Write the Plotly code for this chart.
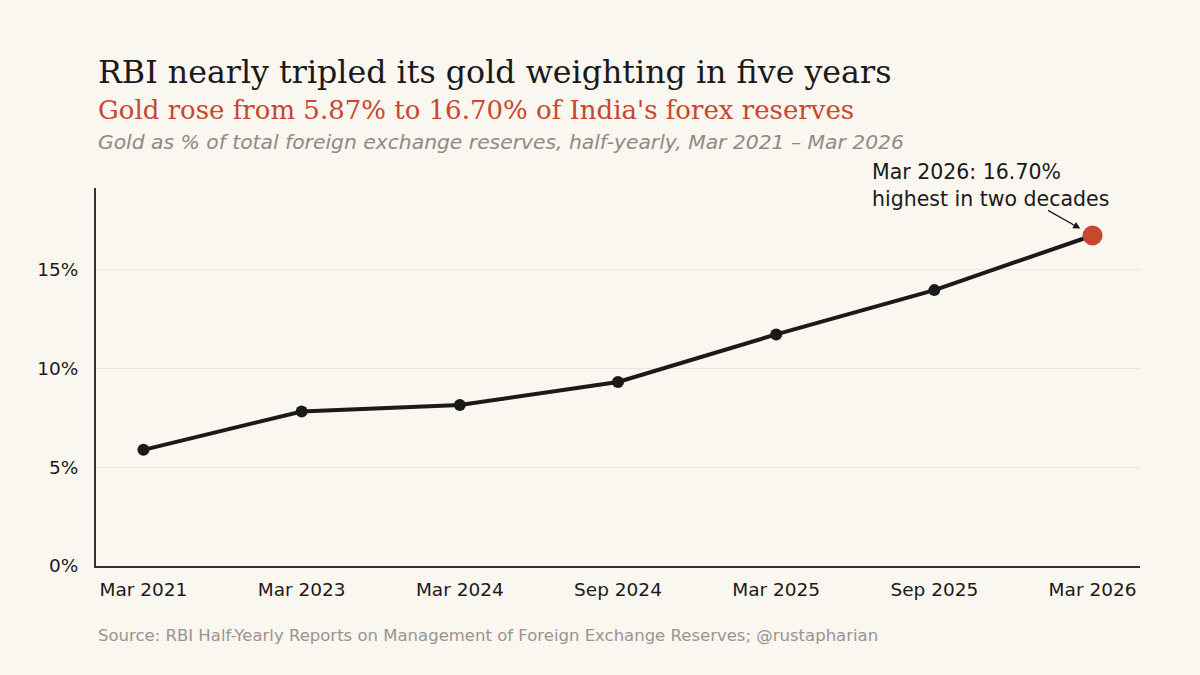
import plotly.graph_objects as go

periods = ["Mar 2021", "Mar 2023", "Mar 2024", "Sep 2024", "Mar 2025", "Sep 2025", "Mar 2026"]
gold_share = [5.87, 7.81, 8.13, 9.30, 11.70, 13.94, 16.70]
y_ticks = [0, 5, 10, 15]
y_labels = [f"{v}%" for v in y_ticks]

bg = "#faf6f0"
ink = "#1a1a1a"
red = "#c8472e"
sans = "DejaVu Sans, sans-serif"
serif = "DejaVu Serif, serif"

fig = go.Figure()
fig.add_trace(go.Scatter(x=periods, y=gold_share, mode="lines+markers",
                         line=dict(color=ink, width=4),
                         marker=dict(color=ink, size=12),
                         hovertemplate="%{x}: %{y:.2f}%<extra></extra>"))
# последняя точка выделена красным
fig.add_trace(go.Scatter(x=periods[-1:], y=gold_share[-1:], mode="markers",
                         marker=dict(color=red, size=20),
                         hoverinfo="skip"))

fig.update_layout(width=1200, height=675, showlegend=False,
                  paper_bgcolor=bg, plot_bgcolor=bg,
                  margin=dict(l=96, r=60, t=188, b=109),
                  font=dict(family=sans, size=17, color=ink))
fig.update_xaxes(type="category", range=[-0.3, 6.3], showgrid=False,
                 showline=True, linecolor="#333333", linewidth=2,
                 ticks="", ticklabelstandoff=6, tickfont=dict(size=18.5, color=ink))
fig.update_yaxes(range=[0, 19.1], tickmode="array", tickvals=y_ticks, ticktext=y_labels,
                 showgrid=True, gridcolor="#ece5db", gridwidth=1,
                 showline=True, linecolor="#333333", linewidth=2,
                 zeroline=False, ticks="", ticklabelstandoff=12,
                 tickfont=dict(size=18.5, color=ink))

fig.add_annotation(text="RBI nearly tripled its gold weighting in five years",
                   xref="paper", yref="paper", x=0, y=1.307, xanchor="left", yanchor="middle",
                   showarrow=False, font=dict(family=serif, size=31.7, color=ink))
fig.add_annotation(text="Gold rose from 5.87% to 16.70% of India's forex reserves",
                   xref="paper", yref="paper", x=0, y=1.206, xanchor="left", yanchor="middle",
                   showarrow=False, font=dict(family=serif, size=26, color=red))
fig.add_annotation(text="<i>Gold as % of total foreign exchange reserves, half-yearly, Mar 2021 – Mar 2026</i>",
                   xref="paper", yref="paper", x=0, y=1.122, xanchor="left", yanchor="middle",
                   showarrow=False, font=dict(family=sans, size=20.3, color="#8f8a85"))
fig.add_annotation(text="Source: RBI Half-Yearly Reports on Management of Foreign Exchange Reserves; @rustapharian",
                   xref="paper", yref="paper", x=0, y=-0.185, xanchor="left", yanchor="middle",
                   showarrow=False, font=dict(family=sans, size=16.5, color="#9a948e"))

fig.add_annotation(text="Mar 2026: 16.70%<br>highest in two decades",
                   xref="paper", yref="paper", x=0.741, y=1.08, xanchor="left", yanchor="top",
                   align="left", showarrow=False, font=dict(family=sans, size=20.5, color=ink))
fig.add_annotation(text="", x=periods[-1], y=gold_share[-1], ax=-46, ay=-26,
                   showarrow=True, arrowhead=2, arrowsize=1.1, arrowwidth=1.3,
                   arrowcolor=ink, standoff=14)

fig.write_html("out.html", config={"displayModeBar": False},
               post_script="document.body.style.margin='0';")
